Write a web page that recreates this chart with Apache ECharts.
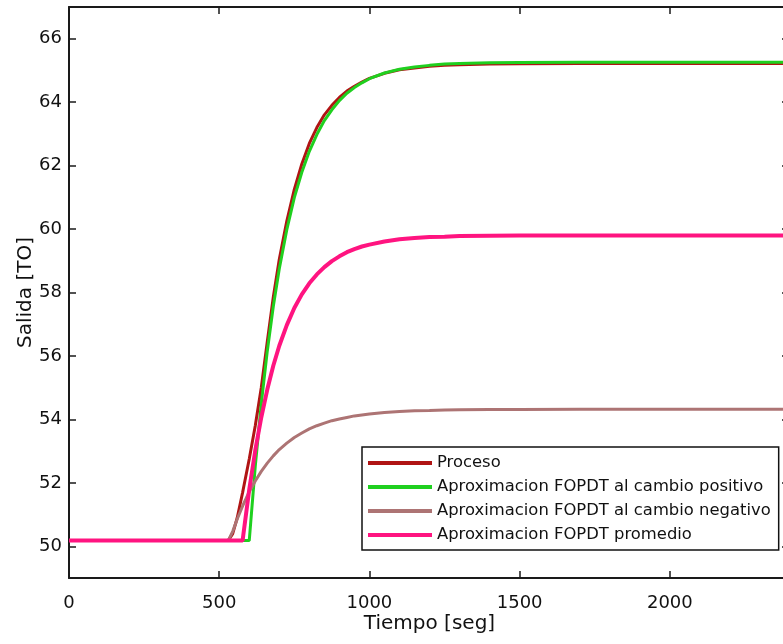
<!DOCTYPE html>
<html><head><meta charset="utf-8">
<script src="https://cdn.jsdelivr.net/npm/echarts@6/dist/echarts.min.js"></script>
<style>html,body{margin:0;padding:0;background:#fff}#c{width:783px;height:644px}</style>
</head><body><div id="c"></div><script>
const tiempo = [0, 500, 530, 535, 545, 560, 578, 580, 600, 620, 640, 660, 680, 700, 725, 750, 775, 800, 825, 850, 875, 900, 925, 950, 975, 1000, 1050, 1100, 1150, 1200, 1250, 1300, 1400, 1500, 1700, 2000, 2400];
const proceso = [50.18, 50.18, 50.18, 50.2, 50.4, 50.9, 51.7, 51.8, 52.75, 53.8, 55.0, 56.45, 57.85, 59.05, 60.25, 61.25, 62.05, 62.7, 63.2, 63.6, 63.9, 64.15, 64.35, 64.5, 64.63, 64.75, 64.91, 65.02, 65.08, 65.13, 65.16, 65.18, 65.2, 65.21, 65.22, 65.22, 65.22];
const fopdtPositivo = [50.18, 50.18, 50.18, 50.18, 50.18, 50.18, 50.18, 50.18, 50.18, 52.52, 54.49, 56.15, 57.56, 58.75, 59.98, 60.99, 61.79, 62.45, 62.98, 63.42, 63.76, 64.05, 64.28, 64.46, 64.61, 64.74, 64.92, 65.04, 65.11, 65.16, 65.20, 65.22, 65.24, 65.25, 65.26, 65.26, 65.26];
const fopdtNegativo = [50.18, 50.18, 50.18, 50.18, 50.47, 50.86, 51.27, 51.32, 51.72, 52.06, 52.36, 52.62, 52.85, 53.05, 53.25, 53.43, 53.57, 53.70, 53.80, 53.88, 53.96, 54.01, 54.06, 54.11, 54.14, 54.17, 54.22, 54.25, 54.27, 54.28, 54.295, 54.30, 54.31, 54.315, 54.32, 54.32, 54.32];
const fopdtPromedio = [50.18, 50.18, 50.18, 50.18, 50.18, 50.18, 50.18, 50.34, 51.79, 53.02, 54.06, 54.94, 55.69, 56.32, 56.97, 57.51, 57.94, 58.29, 58.57, 58.80, 58.99, 59.14, 59.27, 59.37, 59.45, 59.51, 59.61, 59.68, 59.72, 59.75, 59.76, 59.78, 59.79, 59.80, 59.80, 59.80, 59.80];
const nombres = ['Proceso', 'Aproximacion FOPDT al cambio positivo', 'Aproximacion FOPDT al cambio negativo', 'Aproximacion FOPDT promedio'];
const colores = ['#b01414', '#1fd01f', '#ad7474', '#ff1480'];
const anchos = [3, 3, 3, 4];
const valores = [proceso, fopdtPositivo, fopdtNegativo, fopdtPromedio];

const FONT = 'DejaVu Sans';
const axisLine = {show: true, onZero: false, lineStyle: {color: '#1a1a1a', width: 2}};
const axisTick = {show: true, inside: true, length: 7, lineStyle: {color: '#1a1a1a', width: 1.5}};
const chart = echarts.init(document.getElementById('c'), null, {renderer: 'canvas'});
chart.setOption({
  animation: false,
  backgroundColor: '#fff',
  grid: {left: 69, top: 7, width: 721, height: 571, containLabel: false, outerBoundsMode: 'none'},
  legend: {
    orient: 'vertical', left: 362, top: 447, padding: [7, 8, 6, 6],
    itemWidth: 64, itemHeight: 4, itemGap: 6, icon: 'rect',
    backgroundColor: '#fff', borderColor: '#111', borderWidth: 1.5,
    textStyle: {fontSize: 16.4, fontFamily: FONT, color: '#111', lineHeight: 18},
    data: nombres
  },
  xAxis: [
    {type: 'value', min: 0, max: 2400, interval: 500, position: 'bottom',
     axisLine, axisTick, splitLine: {show: false},
     axisLabel: {margin: 16, fontSize: 18, fontFamily: FONT, color: '#111', showMaxLabel: false,
                 formatter: v => String(v)},
     name: 'Tiempo [seg]', nameLocation: 'middle', nameGap: 36, nameMoveOverlap: false,
     nameTextStyle: {fontSize: 20, fontFamily: FONT, color: '#111'}},
    {type: 'value', min: 0, max: 2400, interval: 500, position: 'top',
     axisLine, axisTick, splitLine: {show: false}, axisLabel: {show: false}}
  ],
  yAxis: [
    {type: 'value', min: 49, max: 67, splitNumber: 9, position: 'left',
     axisLine, axisTick, splitLine: {show: false},
     axisLabel: {margin: 7, fontSize: 18, fontFamily: FONT, color: '#111', showMinLabel: false, showMaxLabel: false},
     name: 'Salida [TO]', nameLocation: 'middle', nameGap: 33, nameMoveOverlap: false,
     nameTextStyle: {fontSize: 20, fontFamily: FONT, color: '#111'}},
    {type: 'value', min: 49, max: 67, splitNumber: 9, position: 'right',
     axisLine, axisTick: {show: true, inside: true, length: 8, lineStyle: {color: '#1a1a1a', width: 1.5}},
     splitLine: {show: false}, axisLabel: {show: false}}
  ],
  series: nombres.map((n, k) => ({
    name: n, type: 'line', xAxisIndex: 0, yAxisIndex: 0,
    showSymbol: false, symbol: 'none',
    color: colores[k],
    lineStyle: {color: colores[k], width: anchos[k]},
    data: tiempo.map((t, i) => [t, valores[k][i]])
  }))
});
</script></body></html>
